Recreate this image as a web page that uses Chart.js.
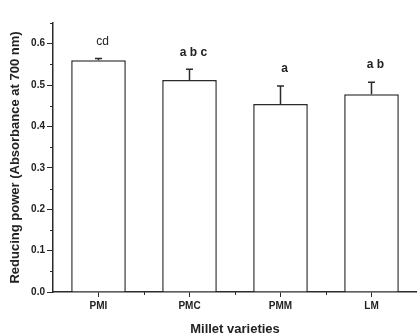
<!DOCTYPE html>
<html>
<head>
<meta charset="utf-8">
<script src="https://cdn.jsdelivr.net/npm/chart.js@4/dist/chart.umd.min.js"></script>
<style>
  html, body { margin: 0; padding: 0; background: #fff; }
  #wrap { width: 417px; height: 334px; }
</style>
</head>
<body>
<div id="wrap"><canvas id="reducingPower"></canvas></div>
<script>
var varieties = ['PMI', 'PMC', 'PMM', 'LM'];
var absorbance = [0.560, 0.512, 0.454, 0.478];
var absorbanceSd = [0.004, 0.026, 0.044, 0.029];
var groupLetters = ['cd', 'a b c', 'a', 'a b'];
var yTickValues = [0, 0.1, 0.2, 0.3, 0.4, 0.5, 0.6];

var ink = '#2b2b2b';
var font = '"Liberation Sans", Arial, sans-serif';

// error bars, minor ticks and significance letters
var extras = {
    id: 'extras',
    afterDatasetsDraw: function (chart) {
        var ctx = chart.ctx;
        var x = chart.scales.x, y = chart.scales.y;
        ctx.save();
        ctx.strokeStyle = ink;
        ctx.lineWidth = 1.5;
        absorbance.forEach(function (v, i) {
            var cx = x.getPixelForValue(i);
            var top = y.getPixelForValue(v + absorbanceSd[i]);
            ctx.beginPath();
            ctx.moveTo(cx, y.getPixelForValue(v));
            ctx.lineTo(cx, top);
            ctx.moveTo(cx - 3.5, top);
            ctx.lineTo(cx + 3.5, top);
            ctx.stroke();
        });
        ctx.restore();
    },
    afterDraw: function (chart) {
        var ctx = chart.ctx;
        var x = chart.scales.x, y = chart.scales.y;
        var area = chart.chartArea;
        ctx.save();
        ctx.strokeStyle = ink;
        ctx.lineWidth = 1;
        ctx.beginPath();
        for (var v = 0.05; v < 0.66; v += 0.1) {
            var py = Math.round(y.getPixelForValue(v)) + 0.5;
            ctx.moveTo(area.left - 3, py);
            ctx.lineTo(area.left, py);
        }
        for (var i = 0; i < varieties.length - 1; i++) {
            var px = Math.round(x.getPixelForValue(i + 0.5)) + 0.5;
            ctx.moveTo(px, area.bottom);
            ctx.lineTo(px, area.bottom + 3);
        }
        ctx.stroke();

        ctx.fillStyle = '#222';
        ctx.textAlign = 'center';
        ctx.textBaseline = 'middle';
        groupLetters.forEach(function (t, i) {
            ctx.font = (i === 0 ? '' : 'bold ') + '12px ' + font;
            var cx = x.getPixelForValue(i) + 4;
            var top = y.getPixelForValue(absorbance[i] + absorbanceSd[i]);
            ctx.fillText(t, cx, top - 17);
        });
        ctx.restore();
    }
};

new Chart(document.getElementById('reducingPower'), {
    type: 'bar',
    data: {
        labels: varieties,
        datasets: [{
            data: absorbance,
            backgroundColor: '#ffffff',
            borderColor: ink,
            borderWidth: 1.5,
            barPercentage: 0.6,
            categoryPercentage: 1
        }]
    },
    options: {
        responsive: true,
        maintainAspectRatio: false,
        animation: false,
        layout: { padding: { top: 23, right: 0, left: 0, bottom: 0 } },
        plugins: {
            legend: { display: false },
            tooltip: { enabled: false }
        },
        scales: {
            x: {
                offset: true,
                afterFit: function (s) { s.height = 42; },
                grid: { offset: false, drawOnChartArea: false, drawTicks: true, tickLength: 5, color: ink, lineWidth: 1 },
                border: { color: ink, width: 1.5 },
                ticks: {
                    color: '#222',
                    padding: 3,
                    font: { family: font, size: 10, weight: 'bold' }
                },
                title: {
                    display: true,
                    text: 'Millet varieties',
                    color: '#222',
                    padding: { top: 0, bottom: -3 },
                    font: { family: font, size: 13, weight: 'bold' }
                }
            },
            y: {
                min: 0,
                max: 0.65,
                afterFit: function (s) { s.width = 53; },
                afterBuildTicks: function (s) {
                    s.ticks = yTickValues.map(function (v) { return { value: v }; });
                },
                grid: { drawOnChartArea: false, drawTicks: true, tickLength: 6, color: ink, lineWidth: 1 },
                border: { color: ink, width: 1.5 },
                ticks: {
                    color: '#222',
                    padding: 2,
                    font: { family: font, size: 10, weight: 'bold' },
                    callback: function (v) { return Number(v).toFixed(1); }
                },
                title: {
                    display: true,
                    text: 'Reducing power (Absorbance at 700 nm)',
                    color: '#222',
                    padding: { top: 8, bottom: 4 },
                    font: { family: font, size: 13, weight: 'bold' }
                }
            }
        }
    },
    plugins: [extras]
});
</script>
</body>
</html>
